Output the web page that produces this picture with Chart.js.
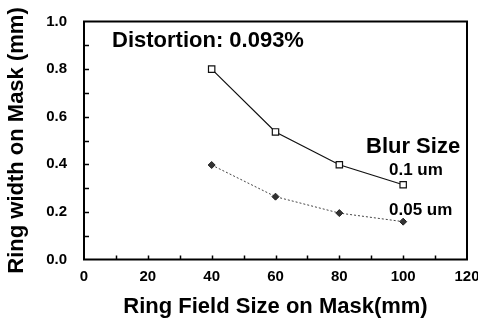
<!DOCTYPE html>
<html>
<head>
<meta charset="utf-8">
<script src="https://cdn.jsdelivr.net/npm/chart.js@4"></script>
<style>
  html, body { margin: 0; padding: 0; background: #fff; }
  #wrap { width: 478px; height: 321px; }
</style>
</head>
<body>
<div id="wrap"><canvas id="myChart"></canvas></div>
<script>
// datos
const campoMascara = [40, 60, 80, 100];
const blur01 = [0.80, 0.536, 0.398, 0.314];
const blur005 = [0.397, 0.264, 0.195, 0.159];
const xTicks = [0, 20, 40, 60, 80, 100, 120];
const yTicks = [0.0, 0.2, 0.4, 0.6, 0.8, 1.0];

const fuente = '"Liberation Sans", Arial, sans-serif';

// marco, ticks hacia adentro y textos del grafico
const marcoPlugin = {
    id: 'marco',
    afterDraw(chart) {
        const c = chart.ctx;
        const a = chart.chartArea;
        const sx = chart.scales.x;
        const sy = chart.scales.y;
        c.save();
        c.strokeStyle = '#000';
        c.lineWidth = 2;
        c.strokeRect(a.left, a.top, a.right - a.left, a.bottom - a.top);

        c.lineWidth = 1.5;
        c.beginPath();
        for (let v = 10; v < 120; v += 10) {
            const px = Math.round(sx.getPixelForValue(v)) + 0.5;
            c.moveTo(px, a.bottom);
            c.lineTo(px, a.bottom - 4);
        }
        for (let i = 1; i < 10; i++) {
            const py = Math.round(sy.getPixelForValue(i / 10)) + 0.5;
            c.moveTo(a.left, py);
            c.lineTo(a.left + 5, py);
        }
        c.stroke();

        c.fillStyle = '#000';
        c.textBaseline = 'middle';
        c.textAlign = 'left';
        c.font = 'bold 22px ' + fuente;
        c.fillText('Distortion: 0.093%', 112, 41);
        c.fillText('Blur Size', 366, 147);
        c.font = 'bold 17px ' + fuente;
        c.fillText('0.1 um', 389, 170);
        c.fillText('0.05 um', 389, 210);
        c.restore();
    }
};

const ctx = document.getElementById('myChart');

new Chart(ctx, {
    type: 'line',
    data: {
        datasets: [
            {
                label: '0.1 um',
                data: campoMascara.map((x, i) => ({ x: x, y: blur01[i] })),
                borderColor: '#111',
                borderWidth: 1.2,
                pointStyle: 'rect',
                pointRadius: 4.5,
                pointBackgroundColor: '#fff',
                pointBorderColor: '#111',
                pointBorderWidth: 1.2,
                tension: 0
            },
            {
                label: '0.05 um',
                data: campoMascara.map((x, i) => ({ x: x, y: blur005[i] })),
                borderColor: '#444',
                borderWidth: 1,
                borderDash: [2, 2],
                pointStyle: 'rectRot',
                pointRadius: 3.5,
                pointBackgroundColor: '#333',
                pointBorderColor: '#222',
                pointBorderWidth: 1,
                tension: 0
            }
        ]
    },
    options: {
        responsive: true,
        maintainAspectRatio: false,
        animation: false,
        layout: { padding: { top: 21.5, right: 11, left: 0, bottom: 0 } },
        scales: {
            x: {
                type: 'linear',
                min: 0,
                max: 120,
                afterBuildTicks: s => { s.ticks = xTicks.map(v => ({ value: v })); },
                afterFit: s => { s.height = 61.5; s.paddingLeft = 0; s.paddingRight = 0; },
                grid: { display: false, drawTicks: false },
                border: { display: false },
                ticks: {
                    color: '#000',
                    padding: 8,
                    maxRotation: 0,
                    font: { family: fuente, size: 15, weight: 'bold' }
                },
                title: {
                    display: true,
                    text: 'Ring Field Size on Mask(mm)',
                    color: '#000',
                    padding: { top: 0, bottom: 1 },
                    font: { family: fuente, size: 22, weight: 'bold' }
                }
            },
            y: {
                min: 0,
                max: 1.0,
                afterBuildTicks: s => { s.ticks = yTicks.map(v => ({ value: v })); },
                afterFit: s => { s.width = 84; s.paddingTop = 0; s.paddingBottom = 0; },
                grid: { display: false, drawTicks: false },
                border: { display: false },
                ticks: {
                    color: '#000',
                    padding: 17,
                    callback: v => Number(v).toFixed(1),
                    font: { family: fuente, size: 15, weight: 'bold' }
                },
                title: {
                    display: true,
                    text: 'Ring width on Mask (mm)',
                    color: '#000',
                    padding: { top: 4, bottom: 0 },
                    font: { family: fuente, size: 22, weight: 'bold' }
                }
            }
        },
        plugins: {
            legend: { display: false },
            tooltip: { enabled: false }
        }
    },
    plugins: [marcoPlugin]
});
</script>
</body>
</html>
